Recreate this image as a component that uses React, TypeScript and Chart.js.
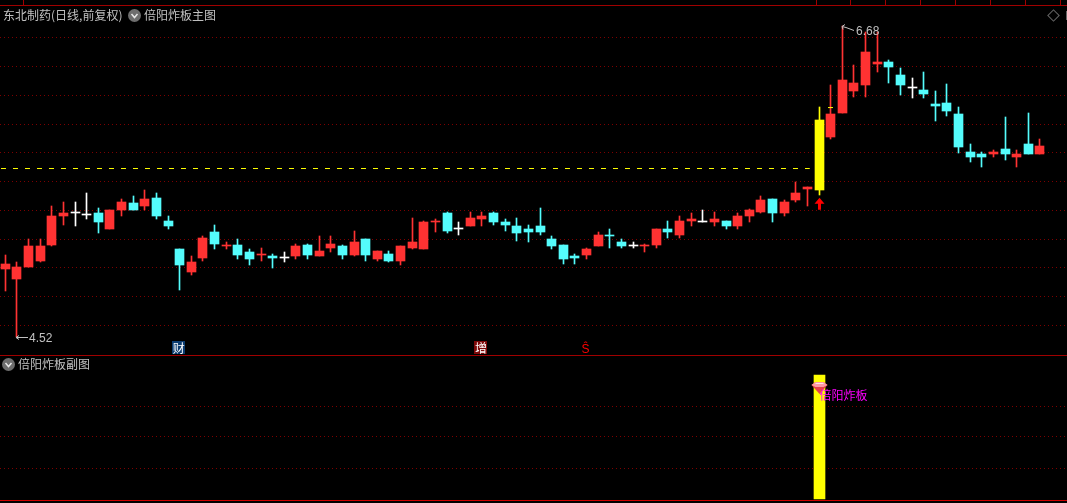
import React, { useEffect, useRef } from "react";
import { Chart, registerables } from "chart.js";

Chart.register(...registerables);

const indices: number[] = Array.from({ length: 90 }, (_, i) => i);
const opens: number[] = [
  4.99, 4.92, 5.01, 5.05, 5.16, 5.36, 5.38, 5.37, 5.38, 5.27,
  5.40, 5.45, 5.43, 5.49, 5.33, 5.13, 4.97, 5.07, 5.25, 5.15,
  5.16, 5.11, 5.09, 5.08, 5.07, 5.08, 5.16, 5.08, 5.14, 5.15,
  5.09, 5.20, 5.06, 5.10, 5.05, 5.14, 5.13, 5.32, 5.38, 5.27,
  5.29, 5.34, 5.38, 5.32, 5.29, 5.27, 5.29, 5.20, 5.16, 5.08,
  5.09, 5.15, 5.23, 5.18, 5.15, 5.15, 5.16, 5.27, 5.23, 5.33,
  5.32, 5.32, 5.33, 5.29, 5.36, 5.39, 5.48, 5.38, 5.47, 5.55,
  5.54, 5.91, 6.08, 6.23, 6.27, 6.42, 6.43, 6.34, 6.25, 6.24,
  6.14, 6.15, 6.07, 5.81, 5.79, 5.79, 5.83, 5.77, 5.86, 5.79,
];
const closes: number[] = [
  5.03, 5.01, 5.15, 5.15, 5.36, 5.38, 5.38, 5.37, 5.32, 5.40,
  5.46, 5.40, 5.48, 5.36, 5.29, 5.02, 5.04, 5.21, 5.17, 5.16,
  5.09, 5.06, 5.10, 5.07, 5.07, 5.15, 5.09, 5.12, 5.17, 5.09,
  5.18, 5.09, 5.12, 5.05, 5.15, 5.18, 5.32, 5.33, 5.26, 5.27,
  5.35, 5.36, 5.32, 5.30, 5.24, 5.25, 5.25, 5.15, 5.06, 5.07,
  5.13, 5.23, 5.22, 5.15, 5.15, 5.16, 5.27, 5.25, 5.33, 5.34,
  5.32, 5.34, 5.29, 5.36, 5.40, 5.47, 5.38, 5.46, 5.52, 5.56,
  6.03, 6.07, 6.31, 6.29, 6.50, 6.43, 6.40, 6.27, 6.25, 6.21,
  6.13, 6.09, 5.84, 5.77, 5.77, 5.81, 5.79, 5.79, 5.79, 5.85,
];
const highs: number[] = [
  5.09, 5.04, 5.20, 5.20, 5.43, 5.46, 5.46, 5.52, 5.42, 5.40,
  5.48, 5.50, 5.54, 5.52, 5.36, 5.13, 5.08, 5.22, 5.30, 5.18,
  5.20, 5.13, 5.14, 5.10, 5.11, 5.17, 5.17, 5.22, 5.22, 5.16,
  5.26, 5.20, 5.12, 5.12, 5.15, 5.35, 5.33, 5.34, 5.39, 5.32,
  5.39, 5.39, 5.39, 5.34, 5.35, 5.30, 5.42, 5.22, 5.16, 5.10,
  5.14, 5.25, 5.27, 5.20, 5.18, 5.17, 5.27, 5.33, 5.36, 5.38,
  5.40, 5.39, 5.33, 5.38, 5.41, 5.50, 5.48, 5.47, 5.60, 5.56,
  6.12, 6.27, 6.68, 6.41, 6.64, 6.64, 6.45, 6.39, 6.32, 6.36,
  6.23, 6.28, 6.12, 5.86, 5.81, 5.82, 6.05, 5.82, 6.08, 5.90,
];
const lows: number[] = [
  4.84, 4.52, 5.01, 5.04, 5.15, 5.30, 5.29, 5.34, 5.24, 5.27,
  5.36, 5.40, 5.40, 5.34, 5.27, 4.85, 4.95, 5.05, 5.13, 5.13,
  5.06, 5.02, 5.05, 5.00, 5.04, 5.06, 5.06, 5.08, 5.11, 5.06,
  5.08, 5.05, 5.05, 5.04, 5.02, 5.13, 5.13, 5.25, 5.24, 5.23,
  5.29, 5.29, 5.30, 5.26, 5.19, 5.18, 5.23, 5.13, 5.03, 5.03,
  5.06, 5.15, 5.14, 5.14, 5.14, 5.11, 5.14, 5.21, 5.21, 5.29,
  5.32, 5.29, 5.27, 5.27, 5.32, 5.38, 5.32, 5.36, 5.46, 5.43,
  5.51, 5.90, 6.08, 6.19, 6.19, 6.36, 6.29, 6.20, 6.18, 6.18,
  6.02, 6.06, 5.80, 5.74, 5.70, 5.77, 5.75, 5.70, 5.79, 5.79,
];
const gridPrices: number[] = [6.6, 6.4, 6.2, 6.0, 5.8, 5.6, 5.4, 5.2, 5.0, 4.8, 4.6];
const subGridValues: number[] = [25, 50, 75];
const signalIndex = 70;
const referencePrice = 5.692;
const referenceSpan: number[] = [-0.37, 69.2];
const signalTickPrice = 6.116;
const signalTickSpan: number[] = [70.77, 71.2];
const signalValue = 100;
const lowLabel = "4.52";
const highLabel = "6.68";
const stockTitle = "东北制药(日线,前复权)";
const mainTitle = "倍阳炸板主图";
const subTitle = "倍阳炸板副图";
const signalText = "倍阳炸板";
const eventMarks: { index: number; text: string; bg: string; fg: string }[] = [
  { index: 15, text: "财", bg: "#0b3c70", fg: "#ffffff" },
  { index: 41, text: "增", bg: "#7d0a0a", fg: "#ffffff" },
  { index: 50, text: "Ŝ", bg: "transparent", fg: "#ff0000" },
];
const topStripTicks: number[] = [23, 816, 850, 885, 920, 955, 990, 1025, 1060];

const RED = "#ff3232";
const CYAN = "#54fcfc";
const WHITE = "#ffffff";
const YELLOW = "#ffff00";
const GREY = "#c0c0c0";
const GRID = "#7d0000";
const LINE = "#a00000";
const FONT = '"Noto Sans CJK SC", "Liberation Sans", sans-serif';

const pxPerUnit = 11.625;
const xMin = -5.3 / pxPerUnit;
const xMax = xMin + 1067 / pxPerUnit;

const colorAt = (i: number): string => {
  if (i === signalIndex) return YELLOW;
  if (closes[i] > opens[i]) return RED;
  if (closes[i] < opens[i]) return CYAN;
  return WHITE;
};

const xAxis = { type: "linear" as const, min: xMin, max: xMax, offset: false, display: false };

// Keep every bar on whole pixels, so wicks stay one crisp pixel wide.
const snapBars = {
  id: "snapBars",
  beforeDatasetsDraw(chart: any) {
    chart.data.datasets.forEach((_: any, d: number) => {
      const meta = chart.getDatasetMeta(d);
      if (meta.type !== "bar") return;
      for (const el of meta.data) {
        el.x = Math.floor(el.x) + 0.5;
        let top = Math.round(el.y);
        const base = Math.round(el.base);
        if (top === base) top = base - 1;
        el.y = top;
        el.base = base;
      }
    });
  },
};

const annotations = {
  id: "annotations",
  afterDatasetsDraw(chart: any) {
    const { ctx, scales } = chart;
    const x = scales.x;
    const y = scales.y;
    ctx.save();
    ctx.strokeStyle = GREY;
    ctx.fillStyle = GREY;
    ctx.lineWidth = 1;
    ctx.font = '12px "Liberation Sans", sans-serif';
    ctx.textBaseline = "middle";

    const lowX = Math.floor(x.getPixelForValue(1));
    const lowY = Math.round(y.getPixelForValue(lows[1])) + 0.5;
    ctx.beginPath();
    ctx.moveTo(lowX, lowY);
    ctx.lineTo(lowX + 12, lowY);
    ctx.moveTo(lowX, lowY);
    ctx.lineTo(lowX + 3, lowY - 2);
    ctx.moveTo(lowX, lowY);
    ctx.lineTo(lowX + 3, lowY + 2);
    ctx.stroke();
    ctx.fillText(lowLabel, lowX + 13, lowY + 1);

    const highX = Math.floor(x.getPixelForValue(72));
    const highY = Math.round(y.getPixelForValue(highs[72])) + 0.5;
    ctx.beginPath();
    ctx.moveTo(highX, highY);
    ctx.lineTo(highX + 4, highY + 1);
    ctx.lineTo(highX + 12, highY + 4);
    ctx.moveTo(highX, highY);
    ctx.lineTo(highX + 3, highY - 2);
    ctx.moveTo(highX, highY);
    ctx.lineTo(highX + 1, highY + 3);
    ctx.stroke();
    ctx.fillText(highLabel, highX + 14, highY + 5);

    // up arrow under the signal candle
    const ax = Math.floor(x.getPixelForValue(signalIndex)) + 0.5;
    const ay = y.getPixelForValue(lows[signalIndex]) + 3;
    ctx.fillStyle = "#ff0000";
    ctx.beginPath();
    ctx.moveTo(ax, ay);
    ctx.lineTo(ax + 5, ay + 6);
    ctx.lineTo(ax + 1.5, ay + 6);
    ctx.lineTo(ax + 1.5, ay + 12);
    ctx.lineTo(ax - 1.5, ay + 12);
    ctx.lineTo(ax - 1.5, ay + 6);
    ctx.lineTo(ax - 5, ay + 6);
    ctx.closePath();
    ctx.fill();

    // event badges
    ctx.font = "12px " + FONT;
    ctx.textAlign = "center";
    for (const m of eventMarks) {
      const cx = x.getPixelForValue(m.index) - 1;
      if (m.bg !== "transparent") {
        ctx.fillStyle = m.bg;
        ctx.fillRect(Math.round(cx) - 7, 341, 13, 13);
      }
      ctx.fillStyle = m.fg;
      ctx.fillText(m.text, cx, 348);
    }
    ctx.restore();
  },
};

const signalDecor = {
  id: "signalDecor",
  afterDatasetsDraw(chart: any) {
    const { ctx, scales } = chart;
    const cx = Math.floor(scales.x.getPixelForValue(signalIndex)) + 0.5;
    const top = scales.y.getPixelForValue(signalValue) + 7;
    ctx.save();
    // gem: red facets with a pale band across its crown
    ctx.fillStyle = "#e8404c";
    ctx.beginPath();
    ctx.moveTo(cx - 8, top + 3);
    ctx.lineTo(cx - 4, top);
    ctx.lineTo(cx + 4, top);
    ctx.lineTo(cx + 8, top + 3);
    ctx.lineTo(cx, top + 12);
    ctx.closePath();
    ctx.fill();
    ctx.fillStyle = "#ff9aa4";
    ctx.beginPath();
    ctx.moveTo(cx - 8, top + 3);
    ctx.lineTo(cx - 4, top);
    ctx.lineTo(cx + 4, top);
    ctx.lineTo(cx + 8, top + 3);
    ctx.lineTo(cx + 4, top + 5);
    ctx.lineTo(cx - 4, top + 5);
    ctx.closePath();
    ctx.fill();
    ctx.fillStyle = "#ffe4e8";
    ctx.fillRect(cx - 4, top + 1, 8, 1);
    ctx.fillStyle = "#ff00ff";
    ctx.font = "12px " + FONT;
    ctx.textBaseline = "middle";
    ctx.fillText(signalText, cx, top + 13);
    ctx.restore();
  },
};

export default function App() {
  const mainRef = useRef<HTMLCanvasElement>(null);
  const subRef = useRef<HTMLCanvasElement>(null);

  useEffect(() => {
    const main = new Chart(mainRef.current as HTMLCanvasElement, {
      type: "bar",
      data: {
        datasets: [
          {
            type: "line",
            data: referenceSpan.map((x) => ({ x, y: referencePrice })),
            borderColor: YELLOW,
            borderWidth: 1,
            borderDash: [5, 7],
            pointRadius: 0,
          },
          {
            type: "line",
            data: signalTickSpan.map((x) => ({ x, y: signalTickPrice })),
            borderColor: YELLOW,
            borderWidth: 1,
            pointRadius: 0,
          },
          {
            data: indices.map((i) => ({ x: i, y: [lows[i], highs[i]] })),
            backgroundColor: indices.map(colorAt),
            barThickness: 1,
            grouped: false,
            order: 2,
          },
          {
            data: indices.map((i) => ({ x: i, y: [opens[i], closes[i]] })),
            backgroundColor: indices.map(colorAt),
            barThickness: indices.map((i) => (i === signalIndex ? 11 : 9)),
            minBarLength: 1,
            grouped: false,
            order: 1,
          },
        ] as any,
      },
      options: {
        animation: false,
        responsive: false,
        layout: { padding: 0 },
        plugins: { legend: { display: false }, tooltip: { enabled: false } },
        scales: {
          x: xAxis,
          y: {
            type: "linear",
            min: 6.6 - (355 - 38) * (0.2 / 28.75),
            max: 6.6 + 38 * (0.2 / 28.75),
            afterBuildTicks: (axis: any) => {
              axis.ticks = gridPrices.map((value) => ({ value }));
            },
            ticks: { display: false },
            border: { display: false, dash: [1, 3] },
            grid: { color: GRID, drawTicks: false, lineWidth: 1 },
          },
        },
      } as any,
      plugins: [snapBars, annotations],
    });

    const sub = new Chart(subRef.current as HTMLCanvasElement, {
      type: "bar",
      data: {
        datasets: [
          {
            data: [{ x: signalIndex, y: [0, signalValue] }],
            backgroundColor: YELLOW,
            barThickness: 11,
          },
        ] as any,
      },
      options: {
        animation: false,
        responsive: false,
        layout: { padding: 0 },
        plugins: { legend: { display: false }, tooltip: { enabled: false } },
        scales: {
          x: xAxis,
          y: {
            type: "linear",
            min: -4 / 1.24,
            max: 144 / 1.24,
            afterBuildTicks: (axis: any) => {
              axis.ticks = subGridValues.map((value) => ({ value }));
            },
            ticks: { display: false },
            border: { display: false, dash: [1, 3] },
            grid: { color: GRID, drawTicks: false, lineWidth: 1 },
          },
        },
      } as any,
      plugins: [snapBars, signalDecor],
    });

    return () => {
      main.destroy();
      sub.destroy();
    };
  }, []);

  const label: React.CSSProperties = {
    position: "absolute",
    color: GREY,
    font: "12px " + FONT,
    lineHeight: "16px",
    whiteSpace: "nowrap",
  };
  const hline = (top: number, color: string): React.CSSProperties => ({
    position: "absolute",
    left: 0,
    top,
    width: 1067,
    height: 1,
    background: color,
  });
  const chevron = (left: number, top: number) => (
    <svg style={{ position: "absolute", left, top }} width={13} height={13} viewBox="0 0 13 13">
      <circle cx={6.5} cy={6.5} r={6.5} fill="#6e6e6e" />
      <path d="M3.5 5 L6.5 8.5 L9.5 5" stroke="#e8e8e8" strokeWidth={1.5} fill="none" />
    </svg>
  );

  return (
    <div style={{ position: "fixed", left: 0, top: 0, width: 1067, height: 503, background: "#000", overflow: "hidden" }}>
      <canvas ref={mainRef} width={1067} height={355} style={{ position: "absolute", left: 0, top: 0 }} />
      <canvas ref={subRef} width={1067} height={148} style={{ position: "absolute", left: 0, top: 355 }} />
      <div style={hline(5, LINE)} />
      <div style={hline(355, LINE)} />
      <div style={{ ...hline(500, "#d00000") }} />
      {topStripTicks.map((x) => (
        <div key={x} style={{ position: "absolute", left: x, top: 0, width: 1, height: 5, background: LINE }} />
      ))}
      <div style={{ ...label, left: 3, top: 7 }}>{stockTitle}</div>
      {chevron(128, 9)}
      <div style={{ ...label, left: 144, top: 7 }}>{mainTitle}</div>
      {chevron(2, 358)}
      <div style={{ ...label, left: 18, top: 356 }}>{subTitle}</div>
      <div style={{ position: "absolute", left: 1049, top: 11, width: 7, height: 7, border: "1px solid #666", transform: "rotate(45deg)" }} />
      <div style={{ position: "absolute", left: 1066, top: 11, width: 1, height: 9, background: "#666" }} />
    </div>
  );
}
